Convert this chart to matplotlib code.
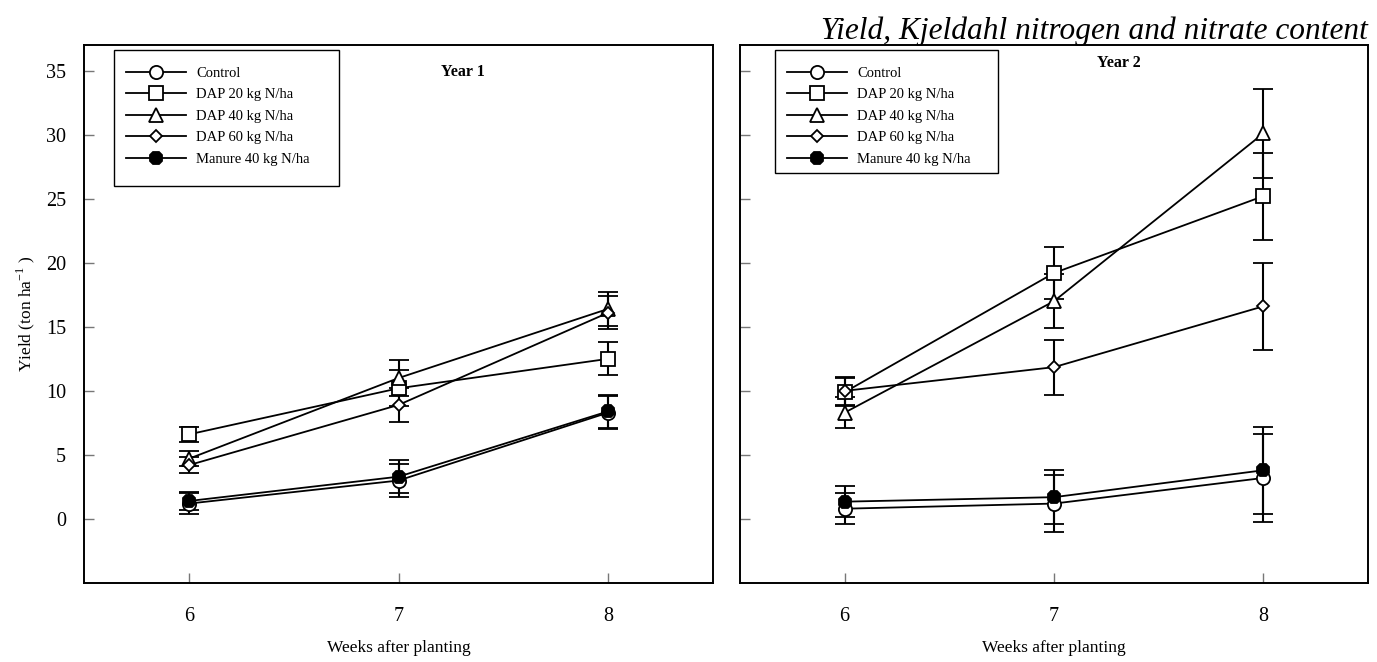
import matplotlib
matplotlib.use("Agg")
import matplotlib.pyplot as plt
from matplotlib.patches import Rectangle

plt.rcParams['font.family'] = ['Liberation Serif', 'DejaVu Serif']
plt.rcParams['mathtext.fontset'] = 'custom'
plt.rcParams['mathtext.rm'] = 'Liberation Serif'

weeks = [6, 7, 8]
treatments = ["Control", "DAP 20 kg N/ha", "DAP 40 kg N/ha", "DAP 60 kg N/ha", "Manure 40 kg N/ha"]

# Year 1 yields (ton/ha) and standard errors
y1_control = [1.2, 3.0, 8.3]
y1_dap20 = [6.6, 10.2, 12.5]
y1_dap40 = [4.7, 11.0, 16.4]
y1_dap60 = [4.2, 8.9, 16.1]
y1_manure = [1.4, 3.3, 8.4]
e1_control = [0.8, 1.3, 1.3]
e1_dap20 = [0.6, 1.4, 1.3]
e1_dap40 = [0.6, 1.4, 1.3]
e1_dap60 = [0.6, 1.3, 1.3]
e1_manure = [0.7, 1.3, 1.3]

# Year 2 yields (ton/ha) and standard errors
y2_control = [0.8, 1.2, 3.2]
y2_dap20 = [9.9, 19.2, 25.2]
y2_dap40 = [8.3, 17.0, 30.1]
y2_dap60 = [10.0, 11.85, 16.6]
y2_manure = [1.35, 1.7, 3.8]
e2_control = [1.2, 2.2, 3.4]
e2_dap20 = [1.1, 2.0, 3.4]
e2_dap40 = [1.2, 2.1, 3.5]
e2_dap60 = [1.1, 2.15, 3.4]
e2_manure = [1.2, 2.1, 3.4]

y_ticks = [0, 5, 10, 15, 20, 25, 30, 35]

styles = [
    dict(marker='o', ms=9.5, mfc='white'),
    dict(marker='s', ms=9.5, mfc='white'),
    dict(marker='^', ms=10, mfc='white'),
    dict(marker='D', ms=6.5, mfc='white'),
    dict(marker='8', ms=9.5, mfc='black'),
]

fig = plt.figure(figsize=(13.77, 6.62), dpi=100)
ax1 = fig.add_axes([84 / 1377, 1 - 583 / 662, 629 / 1377, 538 / 662])
ax2 = fig.add_axes([740 / 1377, 1 - 583 / 662, 628 / 1377, 538 / 662])

# (axes, values, errors, panel title, title y, legend box [x0, y0, x1, y1] in axes fraction)
panels = [
    (ax1, [y1_control, y1_dap20, y1_dap40, y1_dap60, y1_manure],
     [e1_control, e1_dap20, e1_dap40, e1_dap60, e1_manure], "Year 1", 0.950,
     (0.0477, 0.738, 0.4054, 0.9907)),
    (ax2, [y2_control, y2_dap20, y2_dap40, y2_dap60, y2_manure],
     [e2_control, e2_dap20, e2_dap40, e2_dap60, e2_manure], "Year 2", 0.967,
     (0.0557, 0.762, 0.411, 0.9907)),
]

for ax, series, errs, title, ty, box in panels:
    for name, vals, err, st in zip(treatments, series, errs, styles):
        ax.errorbar(weeks, vals, yerr=err, color='black', lw=1.3, elinewidth=1.5,
                    capsize=7, capthick=1.5, mec='black', mew=1.3, label=name,
                    marker=st['marker'], ms=st['ms'], mfc=st['mfc'])
    ax.set_xlim(5.5, 8.5)
    ax.set_ylim(-5, 37)
    ax.set_xticks(weeks)
    ax.set_yticks(y_ticks)
    ax.tick_params(direction='in', length=7, width=1, color='#777777',
                   labelsize=14.5, pad=13)
    ax.tick_params(axis='x', pad=17)
    for sp in ax.spines.values():
        sp.set_linewidth(1.4)
    ax.set_xlabel("Weeks after planting", fontsize=12.5, labelpad=10)
    ax.text(0.603, ty, title, transform=ax.transAxes, ha='center', va='center',
            fontsize=11.5, fontweight='bold')

    # legend entries without frame, plus a plain rectangular box around them
    handles, labels = ax.get_legend_handles_labels()
    handles = [h[0] for h in handles]
    ax.legend(handles, labels, loc='upper left', bbox_to_anchor=(box[0] + 0.019, 0.960),
              frameon=False, fontsize=10.5, handlelength=4.1, handletextpad=0.7,
              labelspacing=0.57, borderpad=0, borderaxespad=0)
    ax.add_patch(Rectangle((box[0], box[1]), box[2] - box[0], box[3] - box[1],
                           transform=ax.transAxes, fill=False, edgecolor='black',
                           lw=1.0, zorder=5))

ax1.set_ylabel("Yield (ton ha$^{-1}$ )", fontsize=12.5, labelpad=6)
ax2.tick_params(axis='y', labelleft=False)

fig.text(1368 / 1377, 1 - 31 / 662, "Yield, Kjeldahl nitrogen and nitrate content",
         ha='right', va='center', fontsize=22.6, style='italic')

fig.savefig("out.png", dpi=100)
